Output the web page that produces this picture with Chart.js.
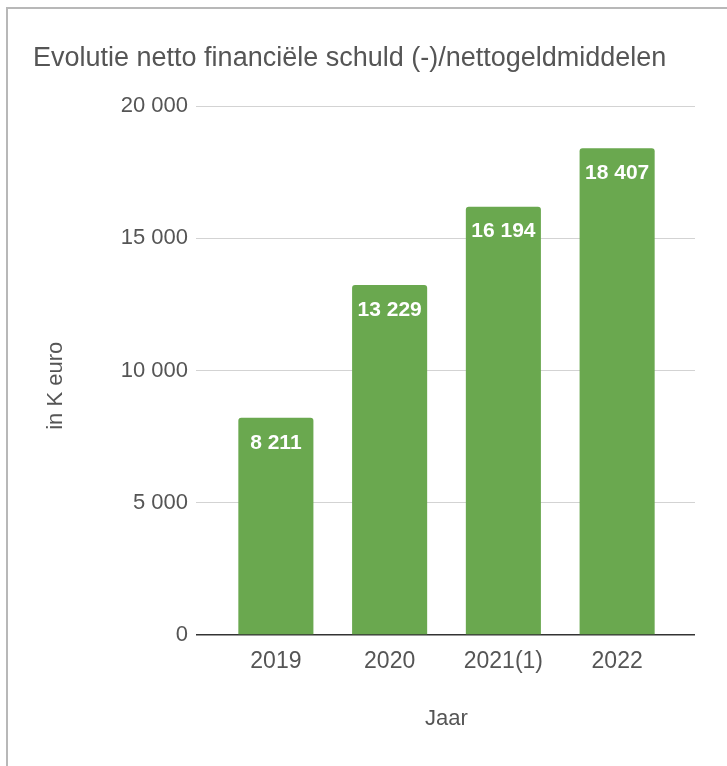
<!DOCTYPE html>
<html>
<head>
<meta charset="utf-8">
<script src="https://cdn.jsdelivr.net/npm/chart.js@4/dist/chart.umd.min.js"></script>
<style>
    html, body { margin: 0; padding: 0; background: #fff; overflow: hidden; }
    #frame { position: absolute; left: 6px; top: 7px; width: 900px; height: 900px; border-left: 2px solid #b8b8b8; border-top: 2px solid #b8b8b8; }
    #wrap { position: absolute; left: 0; top: 0; width: 727px; height: 766px; }
</style>
</head>
<body>
<div id="frame"></div>
<div id="wrap"><canvas id="chart"></canvas></div>
<script>
const years = ['2019', '2020', '2021(1)', '2022'];
const schuld = [8211, 13229, 16194, 18407];
const yTicks = [0, 5000, 10000, 15000, 20000];

const FONT = "'Liberation Sans', Arial, sans-serif";
const TEXT = '#555555';
const GRID = '#d3d3d3';
const BASE = '#333333';

// spaces as thousand separators, like "18 407"
const fmt = v => Math.round(v).toString().replace(/\B(?=(\d{3})+(?!\d))/g, ' ');

// white value labels inside the top of each bar
const barLabels = {
    id: 'barLabels',
    afterDatasetsDraw(chart) {
        const ctx = chart.ctx;
        const meta = chart.getDatasetMeta(0);
        ctx.save();
        ctx.font = `bold 21px ${FONT}`;
        ctx.fillStyle = '#ffffff';
        ctx.textAlign = 'center';
        ctx.textBaseline = 'middle';
        meta.data.forEach((bar, i) => {
            ctx.fillText(fmt(schuld[i]), bar.x, bar.y + 25);
        });
        ctx.restore();
    }
};

const gridColor = c => (c.tick && c.tick.value === 0 ? BASE : GRID);
const gridWidth = c => (c.tick && c.tick.value === 0 ? 1.5 : 1);

new Chart(document.getElementById('chart'), {
    type: 'bar',
    data: {
        labels: years,
        datasets: [{
            data: schuld,
            backgroundColor: '#6aa84f',
            borderRadius: { topLeft: 3, topRight: 3 },
            borderSkipped: 'bottom',
            barPercentage: 0.66,
            categoryPercentage: 1
        }]
    },
    options: {
        responsive: true,
        maintainAspectRatio: false,
        animation: false,
        layout: { padding: { left: 33, right: 32, top: 0, bottom: 0 } },
        plugins: {
            legend: { display: false },
            tooltip: { enabled: false },
            title: {
                display: true,
                text: 'Evolutie netto financiële schuld (-)/nettogeldmiddelen',
                align: 'start',
                color: TEXT,
                font: { family: FONT, size: 27, weight: 'normal' },
                padding: { top: 42, bottom: 31.6 }
            }
        },
        scales: {
            x: {
                grid: { display: false, drawTicks: false },
                border: { display: false },
                ticks: { color: TEXT, font: { family: FONT, size: 23 }, padding: 13 },
                title: {
                    display: true,
                    text: 'Jaar',
                    color: TEXT,
                    font: { family: FONT, size: 22 },
                    padding: { top: 0, bottom: 34 }
                },
                afterFit: s => { s.height = 131; }
            },
            y: {
                min: 0,
                max: 20000,
                afterBuildTicks: s => { s.ticks = yTicks.map(v => ({ value: v })); },
                grid: { color: gridColor, tickColor: gridColor, tickLength: 23, lineWidth: gridWidth },
                border: { display: false },
                ticks: { color: TEXT, font: { family: FONT, size: 22 }, padding: 8, callback: v => fmt(v) },
                title: {
                    display: true,
                    // trailing spaces nudge the rotated title down a little, as in the original
                    text: 'in K euro     ',
                    color: TEXT,
                    font: { family: FONT, size: 22 },
                    padding: { top: 10, bottom: 0 }
                },
                afterFit: s => { s.width = 186; }
            },
            // right-hand stub so the gridlines run past the last bar
            y2: {
                position: 'right',
                min: 0,
                max: 20000,
                afterBuildTicks: s => { s.ticks = yTicks.map(v => ({ value: v })); },
                grid: { drawOnChartArea: false, color: gridColor, tickColor: gridColor, tickLength: 21, lineWidth: gridWidth },
                border: { display: false },
                ticks: { display: false },
                afterFit: s => { s.width = 21; }
            }
        }
    },
    plugins: [barLabels]
});
</script>
</body>
</html>
